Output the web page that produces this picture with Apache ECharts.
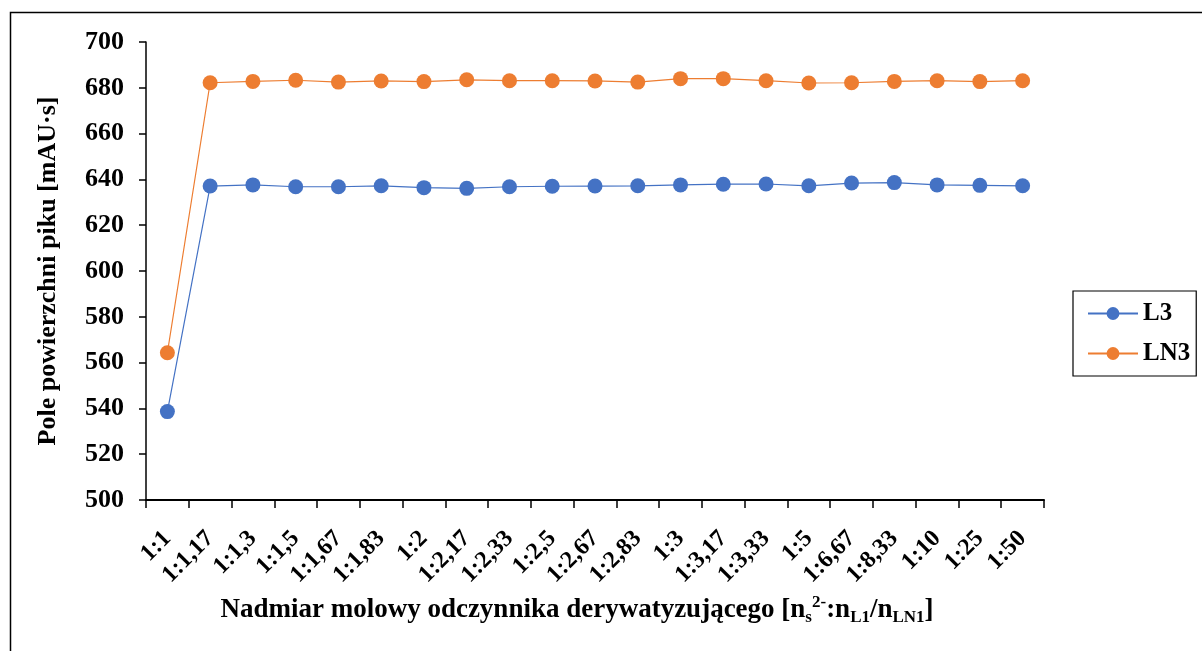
<!DOCTYPE html>
<html>
<head>
<meta charset="utf-8">
<script src="https://cdn.jsdelivr.net/npm/echarts@6/dist/echarts.min.js"></script>
<style>
  html, body { margin: 0; padding: 0; background: #fff; }
  #chart { width: 1202px; height: 651px; }
</style>
</head>
<body>
<div id="chart"></div>
<script>
// Molar excess of the derivatizing reagent (category axis)
const categories = ['1:1', '1:1,17', '1:1,3', '1:1,5', '1:1,67', '1:1,83', '1:2', '1:2,17', '1:2,33', '1:2,5',
  '1:2,67', '1:2,83', '1:3', '1:3,17', '1:3,33', '1:5', '1:6,67', '1:8,33', '1:10', '1:25', '1:50'];

// Peak areas [mAU·s]
const seriesL3 = [538.6, 637.1, 637.6, 636.8, 636.8, 637.2, 636.4, 636.1, 636.8, 637.0,
  637.1, 637.2, 637.6, 637.9, 638.0, 637.2, 638.4, 638.6, 637.6, 637.4, 637.2];
const seriesLN3 = [564.3, 682.2, 682.8, 683.3, 682.5, 683.0, 682.7, 683.5, 683.1, 683.1,
  683.0, 682.5, 684.0, 684.0, 683.1, 682.1, 682.2, 682.8, 683.1, 682.7, 683.1];

const yTicks = { min: 500, max: 700, interval: 20 };

const FONT = '"Liberation Serif", "Times New Roman", serif';
const BLUE = '#4472C4';
const ORANGE = '#ED7D31';

const chart = echarts.init(document.getElementById('chart'));

chart.setOption({
  backgroundColor: '#fff',
  animation: false,
  graphic: [{
    type: 'rect',
    shape: { x: 10.5, y: 12.5, width: 1400, height: 800 },
    style: { fill: 'none', stroke: '#000', lineWidth: 1.5 },
    silent: true
  }],
  grid: { left: 146, right: 158, top: 42, bottom: 151 },
  legend: {
    orient: 'vertical',
    left: 1073,
    top: 291,
    padding: [10, 6, 10, 14],
    itemWidth: 50,
    itemHeight: 16,
    itemGap: 15,
    borderColor: '#000',
    borderWidth: 1.2,
    textStyle: { fontFamily: FONT, fontWeight: 'bold', fontSize: 25, color: '#000' },
    data: ['L3', 'LN3']
  },
  xAxis: {
    type: 'category',
    data: categories,
    boundaryGap: true,
    axisLine: { lineStyle: { color: '#000', width: 2 } },
    axisTick: { show: true, alignWithLabel: false, length: 8, lineStyle: { color: '#000', width: 1.5 } },
    axisLabel: {
      interval: 0, rotate: 45, margin: 35,
      fontFamily: FONT, fontWeight: 'bold', fontSize: 24, color: '#000'
    },
    name: '{m|Nadmiar molowy odczynnika derywatyzującego [n}{sb|s}{sp|2-}{m|:n}{sb|L1}{m|/n}{sb|LN1}{m|]}',
    nameLocation: 'middle',
    nameGap: 86,
    nameTextStyle: {
      padding: [0, 36, 0, 0],
      rich: {
        m: { fontFamily: FONT, fontWeight: 'bold', fontSize: 27, color: '#000', lineHeight: 32, verticalAlign: 'middle' },
        sb: { fontFamily: FONT, fontWeight: 'bold', fontSize: 17, color: '#000', lineHeight: 17, verticalAlign: 'bottom' },
        sp: { fontFamily: FONT, fontWeight: 'bold', fontSize: 17, color: '#000', lineHeight: 17, verticalAlign: 'top' }
      }
    }
  },
  yAxis: {
    type: 'value',
    min: yTicks.min, max: yTicks.max, interval: yTicks.interval,
    axisLine: { show: true, lineStyle: { color: '#000', width: 1.5 } },
    axisTick: { show: true, inside: false, length: 7, lineStyle: { color: '#000', width: 1.5 } },
    splitLine: { show: false },
    axisLabel: { margin: 22, fontFamily: FONT, fontWeight: 'bold', fontSize: 26, color: '#000' },
    name: 'Pole powierzchni piku [mAU·s]',
    nameLocation: 'middle',
    nameGap: 85,
    nameTextStyle: { fontFamily: FONT, fontWeight: 'bold', fontSize: 26, color: '#000' }
  },
  series: [
    {
      name: 'L3', type: 'line', data: seriesL3,
      symbol: 'circle', symbolSize: 15,
      itemStyle: { color: BLUE },
      lineStyle: { color: BLUE, width: 1.2 }
    },
    {
      name: 'LN3', type: 'line', data: seriesLN3,
      symbol: 'circle', symbolSize: 15,
      itemStyle: { color: ORANGE },
      lineStyle: { color: ORANGE, width: 1.2 }
    }
  ]
});
</script>
</body>
</html>
